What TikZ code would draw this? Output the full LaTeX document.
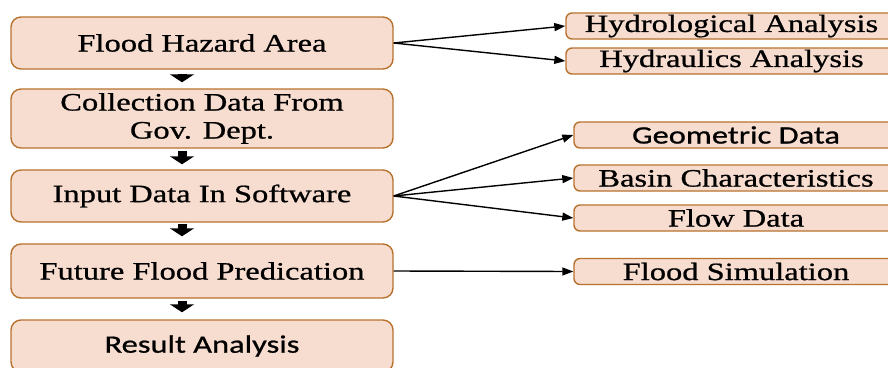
\documentclass[tikz,border=0pt]{standalone}
\usepackage{fontspec}
\setmainfont{Liberation Serif}[FakeStretch=1.3,FakeBold=0.8]
\setsansfont{Carlito}[FakeStretch=1.3,FakeBold=0.8]
\usetikzlibrary{arrows.meta}
\definecolor{boxfill}{HTML}{F7DCD0}
\definecolor{boxline}{HTML}{B8722E}
\tikzset{
  leftbox/.style={draw=boxline, fill=boxfill, line width=1.4pt, rounded corners=10pt,
    minimum width=382pt, inner sep=0pt, align=center,
    font=\fontsize{25}{28}\selectfont},
  rightbox/.style={draw=boxline, fill=boxfill, line width=1.4pt, rounded corners=6pt,
    minimum height=26pt, inner sep=0pt,
    font=\fontsize{25}{28}\selectfont},
  downarrow/.style={line width=9pt, -{Triangle[width=24pt,length=8pt]}},
  thinarrow/.style={line width=1.4pt, -{Triangle[width=8pt,length=11pt]}},
}
\begin{document}
\begin{tikzpicture}[x=1pt,y=-1pt]
\useasboundingbox (0,0) rectangle (888,367);
\clip (0,0) rectangle (888,367);
% left column
\node[leftbox, minimum height=52pt] (b1) at (202,43) {Flood Hazard Area};
\node[leftbox, minimum height=59pt] (b2) at (202,118.5) {Collection Data From\\Gov. Dept.};
\node[leftbox, minimum height=52pt] (b3) at (202,196) {Input Data In Software};
\node[leftbox, minimum height=54pt] (b4) at (202,271) {Future Flood Predication};
\node[leftbox, minimum height=52pt, font=\fontsize{25}{28}\selectfont\sffamily] (b5) at (202,346) {Result Analysis};
% right column
\node[rightbox, minimum width=331pt] (r1) at (731.5,26) {Hydrological Analysis};
\node[rightbox, minimum width=331pt] (r2) at (731.5,61) {Hydraulics Analysis};
\node[rightbox, minimum width=324pt, font=\fontsize{25}{28}\selectfont\sffamily] (r3) at (736,135) {Geometric Data};
\node[rightbox, minimum width=324pt] (r4) at (736,178) {Basin Characteristics};
\node[rightbox, minimum width=324pt] (r5) at (736,218) {Flow Data};
\node[rightbox, minimum width=324pt] (r6) at (736,271.5) {Flood Simulation};
% down arrows
\draw[downarrow, shorten <=4pt, shorten >=6pt] ([xshift=-20pt]b1.south) -- ([xshift=-20pt]b2.north);
\draw[downarrow, shorten <=2pt, shorten >=5pt] ([xshift=-20pt]b2.south) -- ([xshift=-20pt]b3.north);
\draw[downarrow, shorten <=1pt, shorten >=7pt] ([xshift=-20pt]b3.south) -- ([xshift=-20pt]b4.north);
\draw[downarrow, shorten <=2pt, shorten >=7pt] ([xshift=-20pt]b4.south) -- ([xshift=-20pt]b5.north);
% side arrows
\draw[thinarrow] (b1.east) -- (r1.west);
\draw[thinarrow] (b1.east) -- (r2.west);
\draw[thinarrow] (b3.east) -- (r3.west);
\draw[thinarrow] (b3.east) -- (r4.west);
\draw[thinarrow] (b3.east) -- (r5.west);
\draw[thinarrow] (b4.east) -- (r6.west);
\end{tikzpicture}
\end{document}
